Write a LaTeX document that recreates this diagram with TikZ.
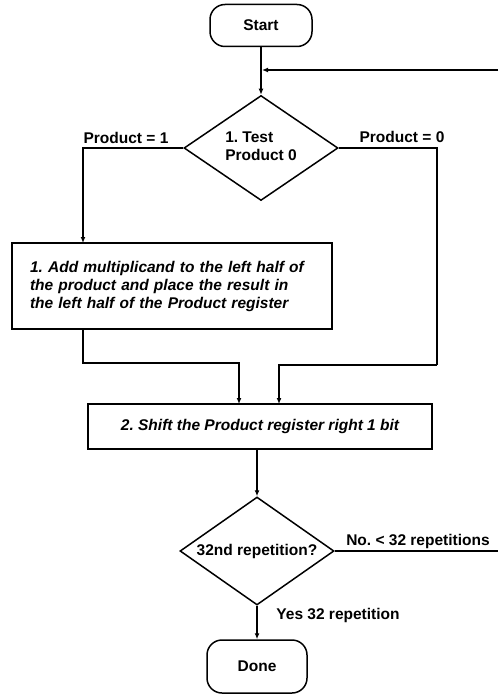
\documentclass[tikz,border=0pt]{standalone}
\usepackage{fontspec}
\setmainfont{Liberation Sans}
\usetikzlibrary{shapes.geometric,arrows.meta}
\frenchspacing
\begin{document}
\begin{tikzpicture}[x=1pt,y=-1pt,
  every node/.style={font=\bfseries\fontsize{15.5}{18}\selectfont},
  term/.style={draw,rounded corners=15pt,line width=1.5pt,minimum width=#1,minimum height=42pt,inner sep=0pt},
  procbox/.style={draw,line width=1.5pt,inner sep=0pt,font=\bfseries\itshape\fontsize{15.5}{18}\selectfont},
  decision/.style={draw,diamond,line width=1.5pt,inner sep=0pt,minimum width=154pt,minimum height=#1},
  lbl/.style={inner sep=0pt},
  conn/.style={line width=1.5pt},
  arr/.style={conn,-{Latex[length=6pt,width=5pt]}}]
\useasboundingbox (0,0) rectangle (498,695);
% nodes
\node[term=102pt] (start) at (261,25.5) {Start};
\node[decision=105pt,align=left] (d1) at (261,148) {\makebox[0pt]{\begin{tabular}{@{}l@{}}1. Test\\Product 0\end{tabular}}};
\node[procbox,minimum width=320pt,minimum height=86pt,align=left,text width=284pt] (box1) at (172,286) {1. Add multiplicand to the left half of\\the product and place the result in\\the left half of the Product register};
\node[procbox,minimum width=344pt,minimum height=45pt] (box2) at (260,426.5) {2. Shift the Product register right 1 bit};
\node[decision=108pt] (d2) at (257,551) {\makebox[0pt]{32nd repetition?}};
\node[term=100pt,minimum height=53pt] (done) at (257,666.5) {Done};
% labels
\node[lbl] (l1) at (126,138) {Product = 1};
\node[lbl] (l0) at (402,137) {Product = 0};
\node[lbl] (lno) at (418,541) {No. < 32 repetitions};
\node[lbl] (lyes) at (338,615) {Yes 32 repetition};
% helper coordinates
\coordinate (loopin) at (262,70);
\coordinate (loopR) at (498,70);
\coordinate (b1in) at (83,243);
\coordinate (rcorner) at (437,365);
\coordinate (b2inR) at (279,404);
\coordinate (b1out) at (83,329);
\coordinate (b2inL) at (239,404);
\coordinate (exitR) at (498,551);
% connectors
\draw[arr] (start) -- (d1.north);
\draw[arr] (loopR) -- (loopin);
\draw[arr] (d1.west) -| (b1in);
\draw[conn] (d1.east) -| (rcorner);
\draw[arr] (rcorner) -| (b2inR);
\draw[arr] (b1out) |- (161,363) -| (b2inL);
\draw[arr] (box2.south -| d2.north) -- (d2.north);
\draw[conn] (d2.east) -- (exitR);
\draw[arr] (d2.south) -- (done.north);
\end{tikzpicture}
\end{document}
